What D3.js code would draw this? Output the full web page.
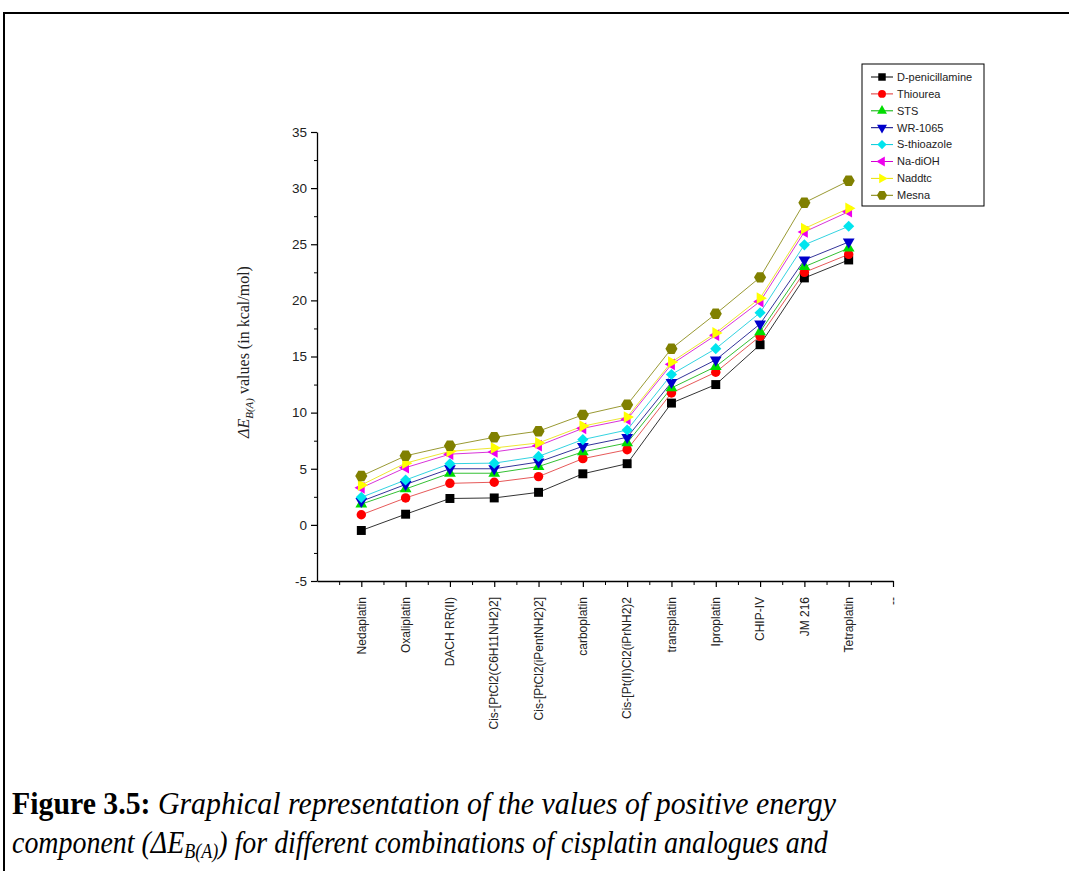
<!DOCTYPE html>
<html>
<head>
<meta charset="utf-8">
<script src="https://cdn.jsdelivr.net/npm/d3@7"></script>
<style>
  body { margin: 0; background: #fff; }
  svg { display: block; }
</style>
</head>
<body>
<div id="chart"></div>
<script>
// categories (the 13th tick just shows "--")
const categories = ['Nedaplatin', 'Oxaliplatin', 'DACH RR(II)', 'Cis-[PtCl2(C6H11NH2)2]',
  'Cis-[PtCl2(iPentNH2)2]', 'carboplatin', 'Cis-[Pt(II)Cl2(iPrNH2)2', 'transplatin',
  'Iproplatin', 'CHIP-IV', 'JM 216', 'Tetraplatin'];
const xTickLabels = categories.concat(['--']);
const yTicks = [-5, 0, 5, 10, 15, 20, 25, 30, 35];

const seriesNames = ['D-penicillamine', 'Thiourea', 'STS', 'WR-1065', 'S-thioazole', 'Na-diOH', 'Naddtc', 'Mesna'];
const dPenicillamine = [-0.5, 0.95, 2.35, 2.4, 2.9, 4.55, 5.45, 10.85, 12.5, 16.05, 22.0, 23.6];
const thiourea = [0.9, 2.4, 3.7, 3.8, 4.3, 5.9, 6.7, 11.75, 13.6, 16.8, 22.5, 24.1];
const sts = [1.85, 3.2, 4.6, 4.6, 5.2, 6.5, 7.3, 12.2, 14.1, 17.2, 23.0, 24.65];
const wr1065 = [2.1, 3.6, 5.0, 5.0, 5.6, 7.0, 7.8, 12.7, 14.7, 17.9, 23.6, 25.2];
const sThioazole = [2.45, 4.0, 5.45, 5.5, 6.1, 7.6, 8.45, 13.4, 15.7, 18.9, 24.95, 26.6];
const naDiOH = [3.3, 5.1, 6.3, 6.5, 7.05, 8.6, 9.4, 14.3, 16.9, 19.9, 26.1, 27.9];
const naddtc = [3.55, 5.5, 6.55, 6.85, 7.3, 8.8, 9.6, 14.5, 17.1, 20.2, 26.4, 28.2];
const mesna = [4.35, 6.15, 7.05, 7.8, 8.35, 9.8, 10.7, 15.7, 18.8, 22.05, 28.7, 30.65];

const seriesValues = [dPenicillamine, thiourea, sts, wr1065, sThioazole, naDiOH, naddtc, mesna];

// hexagon marker for Mesna
const symbolHexagon = {
  draw(ctx, size) {
    const r = Math.sqrt(size / (1.5 * Math.sqrt(3)));
    for (let i = 0; i < 6; i++) {
      const a = Math.PI / 3 * i;
      const px = r * Math.cos(a), py = r * Math.sin(a);
      if (i === 0) ctx.moveTo(px, py); else ctx.lineTo(px, py);
    }
    ctx.closePath();
  }
};

const styles = [
  { fill: '#000000', line: '#000000', type: d3.symbolSquare, size: 80, rot: 0 },
  { fill: '#ff0000', line: '#e03030', type: d3.symbolCircle, size: 70, rot: 0 },
  { fill: '#00dd00', line: '#00b000', type: d3.symbolTriangle, size: 60, rot: 0 },
  { fill: '#0000cc', line: '#000080', type: d3.symbolTriangle, size: 60, rot: 180 },
  { fill: '#00e5ee', line: '#00c8d8', type: d3.symbolSquare, size: 62, rot: 45 },
  { fill: '#ee00ee', line: '#d000d0', type: d3.symbolTriangle, size: 60, rot: -90 },
  { fill: '#ffff00', line: '#e8e000', type: d3.symbolTriangle, size: 60, rot: 90 },
  { fill: '#808000', line: '#808000', type: symbolHexagon, size: 95, rot: 0 }
];

const sans = "'Liberation Sans', Arial, sans-serif";
const serif = "'Liberation Serif', 'Times New Roman', serif";

const W = 1069, H = 871;
const svg = d3.select('#chart').append('svg')
  .attr('width', W).attr('height', H);

svg.append('rect').attr('width', W).attr('height', H).attr('fill', '#fff');

// page frame
svg.append('path')
  .attr('d', `M4,${H} V13 H${W}`)
  .attr('fill', 'none').attr('stroke', '#000').attr('stroke-width', 2);

const x = d3.scaleLinear().domain([0, 13]).range([317, 893]);
const y = d3.scaleLinear().domain([-5, 35]).range([581, 132]);

// y axis
const yAxis = svg.append('g')
  .attr('transform', `translate(${x(0)},0)`)
  .call(d3.axisLeft(y).tickValues(yTicks).tickFormat(d => String(d))
    .tickSize(6).tickPadding(4).tickSizeOuter(0));
yAxis.selectAll('text').attr('font-family', sans).attr('font-size', 13.5).attr('fill', '#222');
yAxis.select('.domain').attr('stroke-width', 1.3);
yAxis.selectAll('.tick line').attr('stroke-width', 1.2);
svg.append('g')
  .attr('transform', `translate(${x(0)},0)`)
  .call(d3.axisLeft(y).tickValues(d3.range(-2.5, 35, 5)).tickSize(3).tickFormat('').tickSizeOuter(0))
  .call(g => g.select('.domain').remove());

// x axis
const xAxis = svg.append('g')
  .attr('transform', `translate(0,${y(-5)})`)
  .call(d3.axisBottom(x).tickValues(d3.range(1, 14)).tickSize(6).tickFormat('').tickSizeOuter(0));
xAxis.select('.domain').attr('stroke-width', 1.3);
xAxis.selectAll('.tick line').attr('stroke-width', 1.2);
svg.append('g')
  .attr('transform', `translate(0,${y(-5)})`)
  .call(d3.axisBottom(x).tickValues(d3.range(0.5, 13, 1)).tickSize(4).tickFormat('').tickSizeOuter(0))
  .call(g => g.select('.domain').remove());

// rotated category labels
svg.append('g').selectAll('text')
  .data(xTickLabels)
  .join('text')
  .attr('transform', (d, i) => `translate(${x(i + 1)},${y(-5) + 16}) rotate(-90)`)
  .attr('dy', '0.35em')
  .attr('text-anchor', 'end')
  .attr('font-family', sans)
  .attr('font-size', 12)
  .attr('fill', '#222')
  .text(d => d);

// y axis title
const yTitle = svg.append('text')
  .attr('transform', `translate(249,352) rotate(-90)`)
  .attr('text-anchor', 'middle')
  .attr('font-family', serif)
  .attr('font-size', 16)
  .attr('fill', '#222');
yTitle.append('tspan').attr('font-style', 'italic').text('ΔE');
yTitle.append('tspan').attr('font-style', 'italic').attr('font-size', 11).attr('dy', 4).text('B(A)');
yTitle.append('tspan').attr('dy', -4).text(' values (in kcal/mol)');

// series lines and markers
const line = d3.line().x((d, i) => x(i + 1)).y(d => y(d));
seriesValues.forEach((vals, s) => {
  svg.append('path')
    .datum(vals)
    .attr('d', line)
    .attr('fill', 'none')
    .attr('stroke', styles[s].line)
    .attr('stroke-width', 1)
    .attr('opacity', 0.8);
});
seriesValues.forEach((vals, s) => {
  const st = styles[s];
  svg.append('g').selectAll('path')
    .data(vals)
    .join('path')
    .attr('transform', (d, i) => `translate(${x(i + 1)},${y(d)}) rotate(${st.rot})`)
    .attr('d', d3.symbol().type(st.type).size(st.size))
    .attr('fill', st.fill);
});

// legend
const legend = svg.append('g').attr('transform', 'translate(862,64)');
legend.append('rect')
  .attr('width', 122).attr('height', 142)
  .attr('fill', '#fff').attr('stroke', '#000').attr('stroke-width', 1);
seriesNames.forEach((name, s) => {
  const st = styles[s];
  const ly = 13 + s * 16.9;
  legend.append('line')
    .attr('x1', 9).attr('x2', 31).attr('y1', ly).attr('y2', ly)
    .attr('stroke', st.line).attr('stroke-width', 1);
  legend.append('path')
    .attr('transform', `translate(20,${ly}) rotate(${st.rot})`)
    .attr('d', d3.symbol().type(st.type).size(st.size * 0.7))
    .attr('fill', st.fill);
  legend.append('text')
    .attr('x', 35).attr('y', ly).attr('dy', '0.35em')
    .attr('font-family', sans)
    .attr('font-size', 11)
    .attr('fill', '#222')
    .text(name);
});

// caption, squeezed horizontally like the scanned page
function caption(yPos, targetW, build) {
  const t = svg.append('text')
    .attr('font-family', serif)
    .attr('font-size', 31)
    .attr('fill', '#000');
  build(t);
  const w = t.node().getComputedTextLength();
  t.attr('transform', `translate(12,${yPos}) scale(${targetW / w},1)`);
}
caption(814, 824, t => {
  t.append('tspan').attr('font-weight', 'bold').text('Figure 3.5: ');
  t.append('tspan').attr('font-style', 'italic').text('Graphical representation of the values of positive energy');
});
caption(853, 816, t => {
  t.append('tspan').attr('font-style', 'italic').text('component (ΔE');
  t.append('tspan').attr('font-style', 'italic').attr('font-size', 20).attr('dy', 5).text('B(A)');
  t.append('tspan').attr('font-style', 'italic').attr('dy', -5).text(') for different combinations of cisplatin analogues and');
});
</script>
</body>
</html>
